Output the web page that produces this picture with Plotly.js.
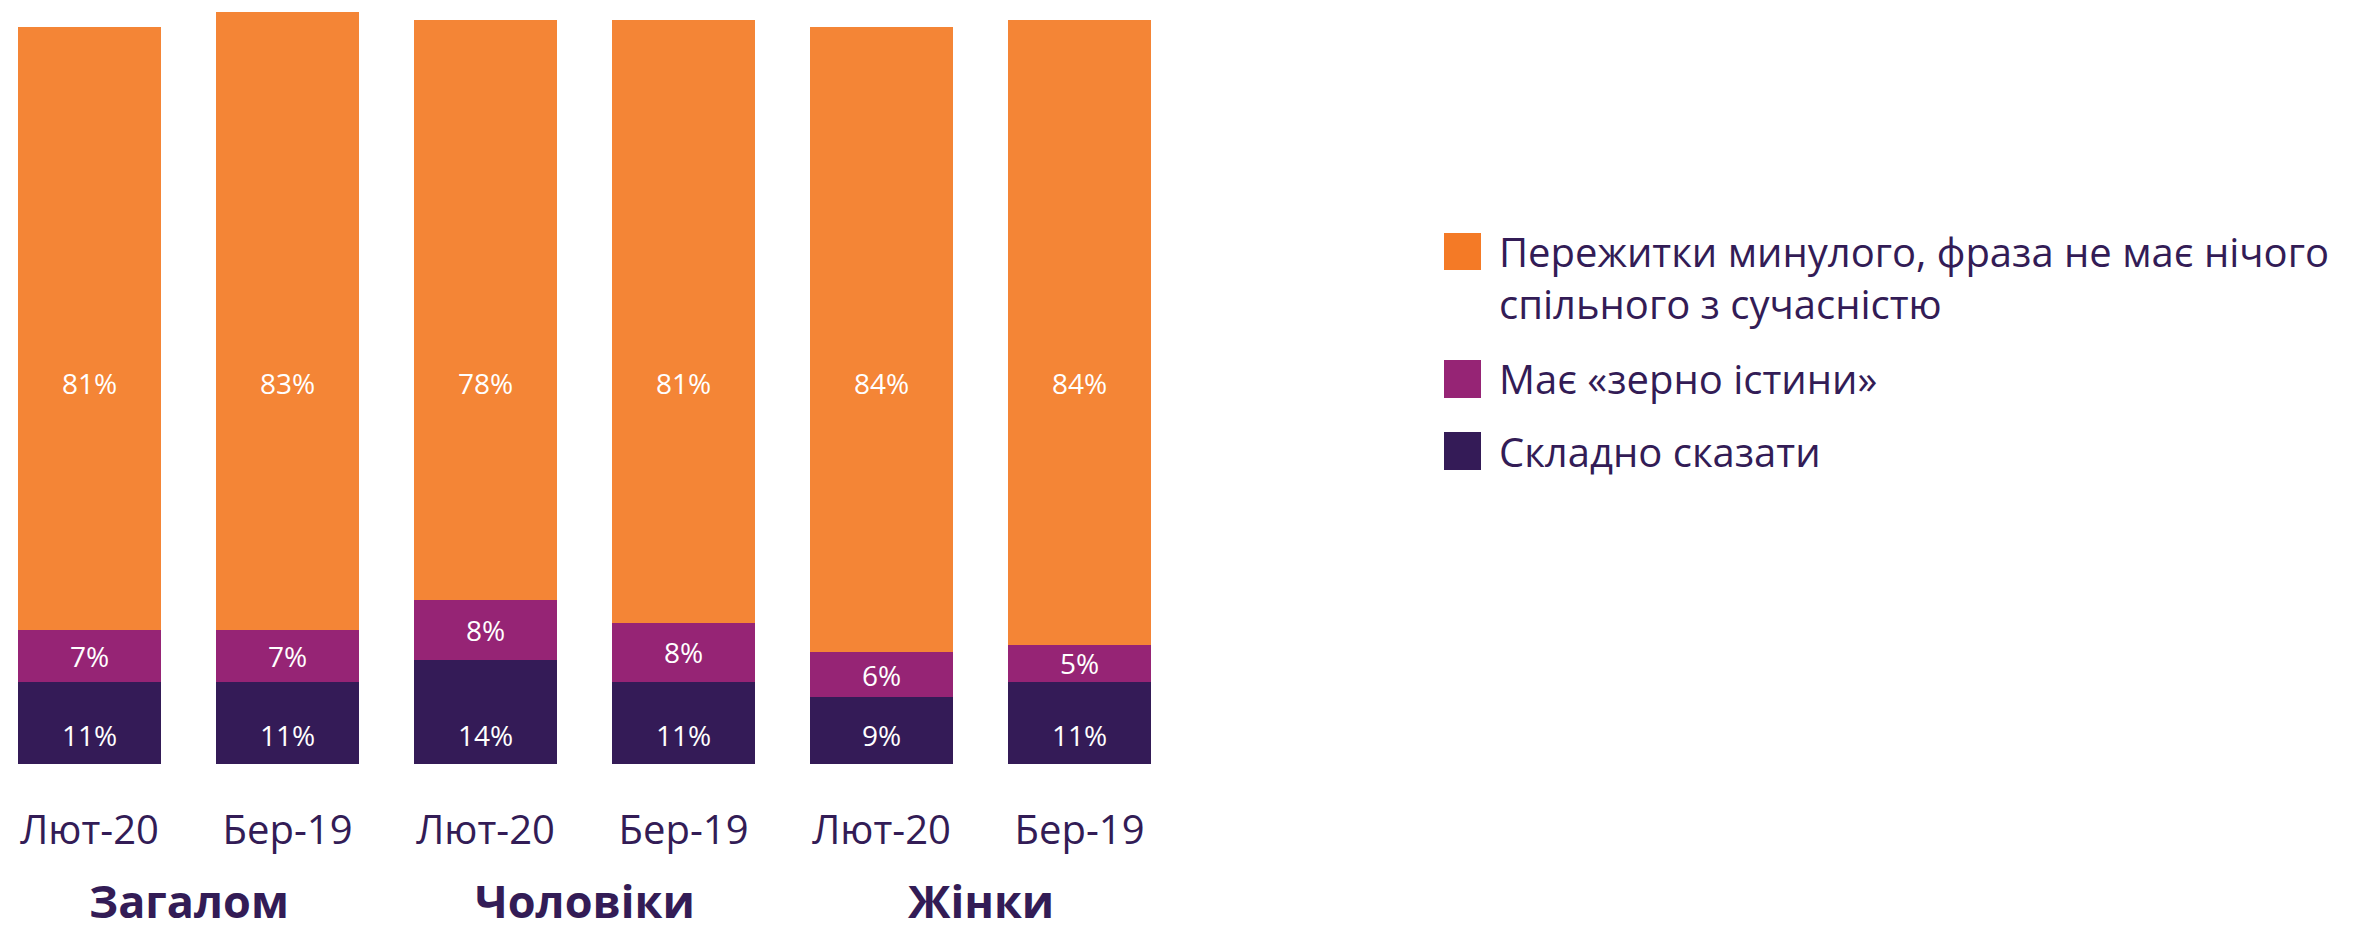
<!DOCTYPE html>
<html>
<head>
<meta charset="utf-8">
<script src="https://cdn.plot.ly/plotly-3.0.1.min.js"></script>
<style>html,body{margin:0;padding:0;background:#fff;}#chart{width:2354px;height:932px;}</style>
</head>
<body>
<div id="chart"></div>
<script>
// ---- data ----
const periods = ['Лют-20', 'Бер-19', 'Лют-20', 'Бер-19', 'Лют-20', 'Бер-19'];
const groups = ['Загалом', 'Чоловіки', 'Жінки'];
const seriesNames = [
  'Пережитки минулого, фраза не має нічого<br>спільного з сучасністю',
  'Має «зерно істини»',
  'Складно сказати'
];
const relic = [81, 83, 78, 81, 84, 84];
const grain = [7, 7, 8, 8, 6, 5];
const hard = [11, 11, 14, 11, 9, 11];

// ---- style ----
const W = 2354, H = 932;
const ML = 0, MR = 1164, MT = 0, MB = 168;
const PW = W - ML - MR, PH = H - MT - MB;
const colors = ['#F48536', '#962475', '#341B57'];
const legendColors = ['#F47A26', '#962475', '#341B57'];
const textDark = '#331C56';
const FONT = 'Open Sans, sans-serif';
const RELIC_LABEL_Y = 50.6, HARD_LABEL_Y = 3.4;

const xs = periods.map((_, i) => i);
const pct = v => v + '%';

const traces = [
  {type: 'bar', x: xs, y: hard, name: seriesNames[2], marker: {color: colors[2]}, showlegend: false, hoverinfo: 'skip'},
  {type: 'bar', x: xs, y: grain, name: seriesNames[1], marker: {color: colors[1]},
   text: grain.map(pct), textposition: 'inside', insidetextanchor: 'middle', constraintext: 'none',
   textfont: {color: '#ffffff', size: 28, family: FONT}, showlegend: false, hoverinfo: 'skip'},
  {type: 'bar', x: xs, y: relic, name: seriesNames[0], marker: {color: colors[0]}, showlegend: false, hoverinfo: 'skip'},
  {type: 'scatter', mode: 'text', x: xs, y: xs.map(() => RELIC_LABEL_Y), text: relic.map(pct),
   textfont: {color: '#ffffff', size: 28, family: FONT}, showlegend: false, hoverinfo: 'skip'},
  {type: 'scatter', mode: 'text', x: xs, y: xs.map(() => HARD_LABEL_Y), text: hard.map(pct),
   textfont: {color: '#ffffff', size: 28, family: FONT}, showlegend: false, hoverinfo: 'skip'}
];

const px2x = p => (p - ML) / PW;
const py2y = p => (MT + PH - p) / PH;

const annotations = groups.map((g, i) => ({
  text: '<b>' + g + '</b>', x: 2 * i + 0.5, xref: 'x', y: py2y(900), yref: 'paper',
  xanchor: 'center', yanchor: 'middle', showarrow: false,
  font: {size: 45, color: textDark, family: FONT}
}));

// custom legend
const legendItems = [
  {sq: [233, 270], textY: 277.5},
  {sq: [360, 398], textY: 378},
  {sq: [432, 470], textY: 451}
];
const shapes = [];
legendItems.forEach((it, i) => {
  shapes.push({type: 'rect', xref: 'paper', yref: 'paper',
    x0: px2x(1444), x1: px2x(1481), y0: py2y(it.sq[1]), y1: py2y(it.sq[0]),
    fillcolor: legendColors[i], line: {width: 0}});
  annotations.push({text: seriesNames[i], xref: 'paper', yref: 'paper',
    x: px2x(1497), y: py2y(it.textY), xanchor: 'left', yanchor: 'middle', align: 'left',
    showarrow: false, font: {size: 40, color: textDark, family: FONT}});
});

const layout = {
  width: W, height: H,
  margin: {l: ML, r: MR, t: MT, b: MB, pad: 0},
  paper_bgcolor: '#ffffff', plot_bgcolor: '#ffffff',
  barmode: 'stack', bargap: 0.278,
  font: {family: FONT, color: textDark},
  xaxis: {
    range: [-89.5 / 198, -89.5 / 198 + PW / 198],
    tickvals: xs, ticktext: periods, ticks: '', showgrid: false, zeroline: false, showline: false,
    tickfont: {size: 40, color: textDark, family: FONT}, ticklabelstandoff: 39, fixedrange: true
  },
  yaxis: {range: [0, PH / 7.445], visible: false, showgrid: false, zeroline: false, fixedrange: true},
  showlegend: false,
  hovermode: false,
  annotations: annotations,
  shapes: shapes
};

Plotly.newPlot('chart', traces, layout, {staticPlot: true, displayModeBar: false});
</script>
</body>
</html>
